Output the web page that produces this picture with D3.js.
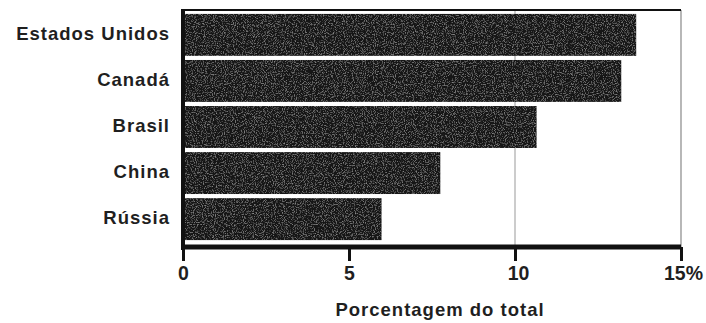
<!DOCTYPE html>
<html>
<head>
<meta charset="utf-8">
<script src="https://cdn.jsdelivr.net/npm/d3@7"></script>
<style>
  body { margin: 0; background: #fff; }
  text { font-family: "Liberation Sans", Arial, sans-serif; font-weight: bold; fill: #1f1f1f; }
</style>
</head>
<body>
<script>
// Share of total, by country
var countries = ["Estados Unidos", "Canadá", "Brasil", "China", "Rússia"];
var shares = [13.65, 13.2, 10.65, 7.75, 5.98];
var tickValues = [0, 5, 10, 15];
var tickLabels = ["0", "5", "10", "15%"];

var width = 706, height = 323;
var plotLeft = 183, plotRight = 681, plotTop = 10, plotBottom = 247;

var svg = d3.select("body").append("svg")
    .attr("width", width).attr("height", height);

// grainy texture for the bars
var filter = svg.append("defs").append("filter").attr("id", "grain")
    .attr("x", 0).attr("y", 0).attr("width", 1).attr("height", 1);
filter.append("feTurbulence").attr("type", "fractalNoise")
    .attr("baseFrequency", 0.9).attr("numOctaves", 2).attr("seed", 4).attr("result", "n");
filter.append("feColorMatrix").attr("in", "n").attr("type", "matrix")
    .attr("values", "0 0 0 0 0.42  0 0 0 0 0.42  0 0 0 0 0.42  1.6 0 0 0 -0.8")
    .attr("result", "specks");
filter.append("feComposite").attr("in", "specks").attr("in2", "SourceGraphic")
    .attr("operator", "in").attr("result", "s");
var merge = filter.append("feMerge");
merge.append("feMergeNode").attr("in", "SourceGraphic");
merge.append("feMergeNode").attr("in", "s");

var x = d3.scaleLinear().domain([0, 15]).range([plotLeft, plotRight]);
var y = d3.scaleBand().domain(countries).range([plotTop + 3, plotBottom - 6])
    .paddingInner(0.09).paddingOuter(0.02);

// grid line at 10 and right border
svg.append("line")
    .attr("x1", x(10)).attr("x2", x(10)).attr("y1", plotTop).attr("y2", plotBottom)
    .attr("stroke", "#999").attr("stroke-width", 1);
svg.append("line")
    .attr("x1", x(15)).attr("x2", x(15)).attr("y1", plotTop).attr("y2", plotBottom)
    .attr("stroke", "#888").attr("stroke-width", 1.2);

// bars
svg.selectAll("rect.bar")
  .data(countries)
  .enter().append("rect")
    .attr("class", "bar")
    .attr("x", x(0))
    .attr("y", function(d) { return y(d); })
    .attr("width", function(d, i) { return x(shares[i]) - x(0); })
    .attr("height", y.bandwidth())
    .attr("fill", "#161616")
    .attr("filter", "url(#grain)");

// top border
svg.append("line")
    .attr("x1", x(0)).attr("x2", x(15)).attr("y1", plotTop).attr("y2", plotTop)
    .attr("stroke", "#111").attr("stroke-width", 2);

// left axis line
svg.append("line")
    .attr("x1", x(0)).attr("x2", x(0)).attr("y1", plotTop - 1).attr("y2", plotBottom + 3)
    .attr("stroke", "#111").attr("stroke-width", 4);

// category labels
svg.selectAll("text.cat")
  .data(countries)
  .enter().append("text")
    .attr("class", "cat")
    .attr("x", 170)
    .attr("y", function(d) { return y(d) + y.bandwidth() / 2 + 5; })
    .attr("text-anchor", "end")
    .attr("font-size", 18.5)
    .attr("letter-spacing", 1)
    .text(function(d) { return d; });

// bottom axis
var xAxis = d3.axisBottom(x).tickValues(tickValues)
    .tickSize(14).tickPadding(5)
    .tickFormat(function(d, i) { return tickLabels[i]; });

var axisG = svg.append("g")
    .attr("transform", "translate(0," + plotBottom + ")")
    .call(xAxis);
axisG.select(".domain").attr("stroke", "#111").attr("stroke-width", 5)
    .attr("d", "M" + x(0) + ",0H" + x(15));
axisG.selectAll(".tick line").attr("stroke", "#111").attr("stroke-width", 3);
axisG.selectAll(".tick text")
    .attr("font-size", 19.5)
    .attr("font-family", "Liberation Sans, Arial, sans-serif")
    .attr("font-weight", "bold")
    .attr("fill", "#1f1f1f")
    .attr("dx", function(d) { return d === 15 ? 2 : (d === 10 ? 3 : 0); });

svg.append("text")
    .attr("x", 440)
    .attr("y", 316)
    .attr("text-anchor", "middle")
    .attr("font-size", 18.5)
    .attr("letter-spacing", 1)
    .text("Porcentagem do total");
</script>
</body>
</html>
